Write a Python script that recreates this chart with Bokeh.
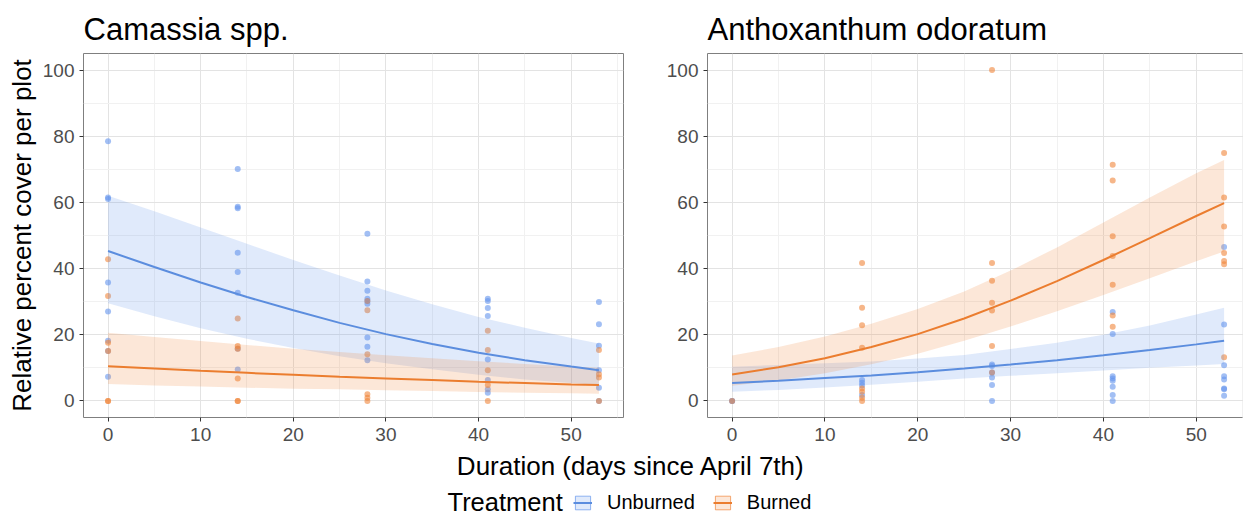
from bokeh.plotting import figure
from bokeh.layouts import column, row
from bokeh.models import Range1d, Legend, LegendItem, FixedTicker
from bokeh.embed import file_html
from bokeh.resources import INLINE
from bokeh.core.properties import value

# ---------------- data ----------------
titles = ["Camassia spp.", "Anthoxanthum odoratum"]
x_label = "Duration (days since April 7th)"
y_label = "Relative percent cover per plot"
legend_title = "Treatment"
treatments = ["Unburned", "Burned"]
x_ticks = [0, 10, 20, 30, 40, 50]
x_minor = [5, 15, 25, 35, 45, 55]
y_ticks = [0, 20, 40, 60, 80, 100]
y_minor = [10, 30, 50, 70, 90]

# Camassia spp. observations
cam_unb_days = [0, 0, 0, 0, 0, 0, 0, 0,
                14, 14, 14, 14, 14, 14, 14, 14,
                28, 28, 28, 28, 28, 28, 28, 28, 28,
                41, 41, 41, 41, 41, 41, 41, 41,
                53, 53, 53, 53, 53, 53]
cam_unb_vals = [78.5, 61.5, 61.0, 35.8, 27.0, 18.2, 15.1, 7.3,
                70.1, 58.7, 58.2, 44.8, 39.0, 32.7, 15.8, 9.5,
                50.5, 36.1, 33.3, 30.9, 30.2, 29.4, 19.2, 16.4, 12.3,
                30.9, 30.2, 28.1, 25.7, 12.5, 6.3, 3.5, 2.5,
                29.9, 23.2, 16.7, 9.3, 4.0, 0.0]
cam_bur_days = [0, 0, 0, 0, 0, 0,
                14, 14, 14, 14, 14, 14,
                28, 28, 28, 28, 28, 28,
                41, 41, 41, 41, 41,
                53, 53, 53, 53]
cam_bur_vals = [42.8, 31.7, 17.6, 15.1, 0.0, 0.0,
                24.9, 16.6, 15.8, 6.8, 0.0, 0.0,
                30.2, 27.4, 14.1, 2.0, 1.0, 0.0,
                21.2, 15.4, 9.3, 4.8, 0.0,
                15.4, 8.1, 7.1, 0.0]

# Anthoxanthum odoratum observations
ant_unb_days = [0, 0,
                14, 14, 14, 14,
                28, 28, 28, 28, 28, 28,
                41, 41, 41, 41, 41, 41, 41, 41,
                53, 53, 53, 53, 53, 53, 53, 53]
ant_unb_vals = [0.0, 0.0,
                6.3, 5.5, 4.7, 1.8,
                11.0, 10.6, 8.6, 7.1, 4.8, 0.0,
                26.9, 20.2, 7.5, 6.8, 6.1, 4.3, 1.8, 0.0,
                46.5, 23.1, 10.8, 7.5, 6.5, 3.8, 3.5, 1.6]
ant_bur_days = [0,
                14, 14, 14, 14, 14, 14, 14, 14,
                28, 28, 28, 28, 28, 28, 28,
                41, 41, 41, 41, 41, 41, 41,
                53, 53, 53, 53, 53, 53, 53]
ant_bur_vals = [0.0,
                41.7, 28.2, 22.9, 16.1, 3.8, 2.8, 1.0, 0.0,
                100.0, 41.7, 36.3, 29.7, 27.3, 16.6, 8.6,
                71.4, 66.6, 49.8, 43.8, 35.1, 25.8, 22.4,
                74.9, 61.5, 52.7, 44.7, 42.3, 41.3, 13.2]

# fitted curves and confidence bands
fit_days = [0, 5, 10, 15, 20, 25, 30, 35, 40, 45, 50, 53]
cam_unb_fit = [45.3, 40.5, 35.8, 31.4, 27.4, 23.6, 20.2, 17.2, 14.6, 12.3, 10.4, 9.3]
cam_unb_lo = [29.5, 25.6, 22.0, 18.8, 16.0, 13.5, 11.4, 9.6, 7.9, 6.5, 5.4, 4.8]
cam_unb_hi = [62.0, 57.3, 52.4, 47.5, 42.6, 37.9, 33.4, 29.2, 25.4, 22.1, 19.0, 17.4]
cam_bur_fit = [10.5, 9.8, 9.1, 8.5, 7.9, 7.3, 6.8, 6.3, 5.8, 5.4, 5.0, 4.8]
cam_bur_lo = [5.1, 4.7, 4.4, 4.0, 3.7, 3.5, 3.2, 3.0, 2.7, 2.5, 2.3, 2.2]
cam_bur_hi = [20.6, 19.3, 18.1, 16.9, 15.8, 14.8, 13.8, 12.9, 12.0, 11.2, 10.4, 10.0]
ant_unb_fit = [5.4, 6.1, 6.9, 7.7, 8.7, 9.8, 11.0, 12.3, 13.8, 15.4, 17.1, 18.2]
ant_unb_lo = [2.8, 3.3, 4.1, 4.9, 5.8, 6.8, 7.6, 8.4, 9.2, 10.0, 10.7, 11.2]
ant_unb_hi = [10.3, 10.9, 11.4, 11.9, 12.8, 13.9, 15.7, 17.6, 20.0, 22.8, 26.1, 28.2]
ant_bur_fit = [8.0, 10.2, 12.9, 16.3, 20.2, 24.9, 30.3, 36.2, 42.6, 49.2, 55.9, 59.8]
ant_bur_lo = [4.6, 6.2, 8.4, 11.1, 14.3, 18.2, 22.5, 27.1, 32.0, 37.1, 42.2, 45.2]
ant_bur_hi = [13.7, 16.3, 19.5, 23.3, 27.8, 33.1, 39.4, 46.4, 53.9, 61.5, 68.8, 72.8]

# ---------------- style ----------------
FONT = "Liberation Sans"
BLUE_LINE = "#5B8DDE"
ORANGE_LINE = "#EB7D2F"
BLUE = "#6495ED"
ORANGE = "#F0853A"
TOP_H = 449


def panel(title, xmax, width, mbl, mbr, series, show_ylabel):
    p = figure(width=width, height=TOP_H,
               x_range=Range1d(-2.65, xmax), y_range=Range1d(-5, 105),
               output_backend="svg", toolbar_location=None,
               min_border_left=mbl, min_border_right=mbr,
               min_border_top=53, min_border_bottom=32,
               title=title)
    p.title.text_font = FONT
    p.title.text_font_size = "31px"
    p.title.text_font_style = "normal"
    p.title.text_color = "black"
    p.title.standoff = 13
    p.title.offset = 0
    p.outline_line_color = "#7F7F7F"
    p.outline_line_width = 1
    p.background_fill_color = "white"
    p.border_fill_color = "white"

    p.xaxis.ticker = FixedTicker(ticks=x_ticks, minor_ticks=x_minor)
    p.yaxis.ticker = FixedTicker(ticks=y_ticks, minor_ticks=y_minor)
    for ax in (p.xaxis, p.yaxis):
        ax.axis_line_color = None
        ax.major_tick_line_color = "#333333"
        ax.major_tick_out = 4
        ax.major_tick_in = 0
        ax.minor_tick_line_color = None
        ax.major_label_text_font = FONT
        ax.major_label_text_font_size = "19px"
        ax.major_label_text_color = "#4D4D4D"
    p.xaxis.major_label_standoff = 6
    p.yaxis.major_label_standoff = 5
    if show_ylabel:
        p.yaxis.axis_label = y_label
        p.yaxis.axis_label_text_font = FONT
        p.yaxis.axis_label_text_font_size = "26px"
        p.yaxis.axis_label_text_font_style = "normal"
        p.yaxis.axis_label_text_color = "black"
        p.yaxis.axis_label_standoff = 3
    p.grid.grid_line_color = "#E3E3E3"
    p.grid.grid_line_width = 1
    p.grid.minor_grid_line_color = "#F1F1F1"
    p.grid.minor_grid_line_width = 1

    for days, vals, fit, lo, hi, pc, lc in series:
        p.scatter(days, vals, size=6, fill_color=pc, fill_alpha=0.6,
                  line_color=None)
    for days, vals, fit, lo, hi, pc, lc in series:
        p.varea(x=fit_days, y1=lo, y2=hi, fill_color=pc, fill_alpha=0.2)
    for days, vals, fit, lo, hi, pc, lc in series:
        p.line(fit_days, fit, line_color=lc, line_width=2)
    return p


left = panel(titles[0], 55.65, 657, 83, 34, [
    (cam_unb_days, cam_unb_vals, cam_unb_fit, cam_unb_lo, cam_unb_hi, BLUE, BLUE_LINE),
    (cam_bur_days, cam_bur_vals, cam_bur_fit, cam_bur_lo, cam_bur_hi, ORANGE, ORANGE_LINE),
], True)
right = panel(titles[1], 55.09, 586, 50, 0, [
    (ant_unb_days, ant_unb_vals, ant_unb_fit, ant_unb_lo, ant_unb_hi, BLUE, BLUE_LINE),
    (ant_bur_days, ant_bur_vals, ant_bur_fit, ant_bur_lo, ant_bur_hi, ORANGE, ORANGE_LINE),
], False)

BOT_H = 65
BOT_W = 1243
bot = figure(width=BOT_W, height=BOT_H, x_range=Range1d(0, BOT_W), y_range=Range1d(BOT_H, 0),
             output_backend="svg", toolbar_location=None, min_border=0,
             x_axis_location=None, y_axis_location=None)
bot.outline_line_color = None
for g in bot.grid:
    g.visible = False

bot.text(x=[630.5], y=[16], text=[x_label], text_font=value(FONT), text_font_size="26px",
         text_align="center", text_baseline="middle", text_color="black")
bot.text(x=[447], y=[52], text=[legend_title], text_font=value(FONT), text_font_size="25.5px",
         text_align="left", text_baseline="middle", text_color="black")

# legend-only renderers (kept outside the visible range)
q_u = bot.quad(left=[-30], right=[-20], top=[-30], bottom=[-20], fill_color=BLUE, fill_alpha=0.2,
               line_color=BLUE, line_alpha=0.7, line_width=1)
l_u = bot.line(x=[-30, -20], y=[-30, -30], line_color=BLUE_LINE, line_width=2)
q_b = bot.quad(left=[-30], right=[-20], top=[-30], bottom=[-20], fill_color=ORANGE, fill_alpha=0.2,
               line_color=ORANGE, line_alpha=0.7, line_width=1)
l_b = bot.line(x=[-30, -20], y=[-30, -30], line_color=ORANGE_LINE, line_width=2)

legend = Legend(items=[LegendItem(label=treatments[0], renderers=[q_u, l_u]),
                       LegendItem(label=treatments[1], renderers=[q_b, l_b])],
                orientation="horizontal", location=(573, 0),
                padding=0, margin=0, spacing=18, label_standoff=15,
                glyph_width=19, glyph_height=17,
                border_line_color=None, background_fill_alpha=0,
                label_text_font=FONT, label_text_font_size="20px",
                label_text_color="black")
bot.add_layout(legend, "center")

layout = column(row(left, right), bot)
open("out.html", "w").write(file_html(layout, INLINE))
